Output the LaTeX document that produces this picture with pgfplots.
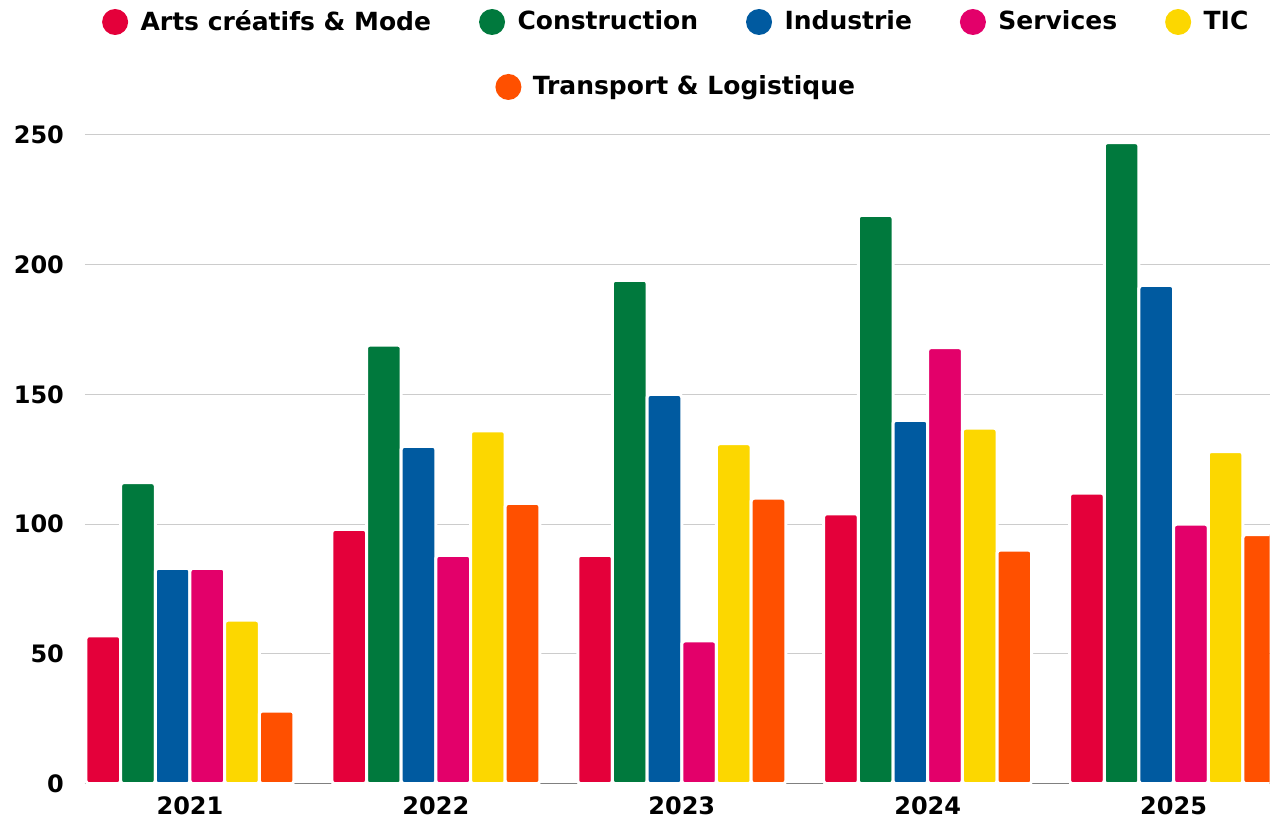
\documentclass[border=0pt]{standalone}
\usepackage{pgfplots}
\pgfplotsset{compat=1.18}
\usepackage{fontspec}
\setmainfont{DejaVu Sans}

\definecolor{arts}{HTML}{E4003A}
\definecolor{constr}{HTML}{00793D}
\definecolor{indus}{HTML}{005AA0}
\definecolor{serv}{HTML}{E3006A}
\definecolor{tic}{HTML}{FCD700}
\definecolor{transp}{HTML}{FF5000}

\pgfplotsset{
    dotlegend/.style={
        legend image code/.code={\fill[##1, draw=none] (6.5pt,0pt) circle (6.5pt); \path (16.5pt,0pt);},
        legend style={draw=none, fill=none, inner sep=0pt, column sep=0pt,
            font=\bfseries\fontsize{12.5}{14}\selectfont},
    },
}
\newcommand{\gap}{\rule{22pt}{0pt}}

\begin{document}
\begin{tikzpicture}
\begin{axis}[
    scale only axis,
    width=592.5pt, height=331pt,
    ybar, bar width=0.141,
    xmin=-0.427, xmax=4.39,
    ymin=0, ymax=255,
    xtick={0,1,2,3,4},
    xticklabels={2021,2022,2023,2024,2025},
    ytick={0,50,100,150,200,250},
    ymajorgrids,
    grid style={draw=black!20, line width=0.5pt},
    axis x line*=bottom, axis y line*=left,
    x axis line style={draw=black!50, line width=0.5pt},
    y axis line style={draw=none},
    tick style={draw=none},
    /pgf/number format/assume math mode=true,
    ticklabel style={font=\bfseries\fontsize{12}{14}\selectfont},
    yticklabel style={xshift=-7pt},
    xticklabel style={yshift=1.5pt},
    dotlegend,
    legend columns=5,
    legend style={at={(0.5,1)}, anchor=center, yshift=50pt},
    every axis plot/.append style={draw=white, line width=1.5pt, rounded corners=1.5pt},
]
\addplot[fill=arts, bar shift=-0.3525] coordinates {(0,57) (1,98) (2,88) (3,104) (4,112)};
\addplot[fill=constr, bar shift=-0.2115] coordinates {(0,116) (1,169) (2,194) (3,219) (4,247)};
\addplot[fill=indus, bar shift=-0.0705] coordinates {(0,83) (1,130) (2,150) (3,140) (4,192)};
\addplot[fill=serv, bar shift=0.0705] coordinates {(0,83) (1,88) (2,55) (3,168) (4,100)};
\addplot[fill=tic, bar shift=0.2115] coordinates {(0,63) (1,136) (2,131) (3,137) (4,128)};
\addplot[fill=transp, bar shift=0.3525] coordinates {(0,28) (1,108) (2,110) (3,90) (4,96)};
\legend{Arts créatifs \& Mode\gap, Construction\gap, Industrie\gap, Services\gap, TIC}
\end{axis}
\begin{axis}[
    scale only axis,
    width=592.5pt, height=331pt,
    xmin=0, xmax=1, ymin=0, ymax=1,
    hide axis,
    dotlegend,
    legend style={at={(0.5,1)}, anchor=center, yshift=17.5pt},
]
\addlegendimage{fill=transp}
\addlegendentry{Transport \& Logistique}
\end{axis}
\path ([xshift=-42.5pt]current axis.south west);
\path ([yshift=61pt]current axis.north);
\end{tikzpicture}
\end{document}
